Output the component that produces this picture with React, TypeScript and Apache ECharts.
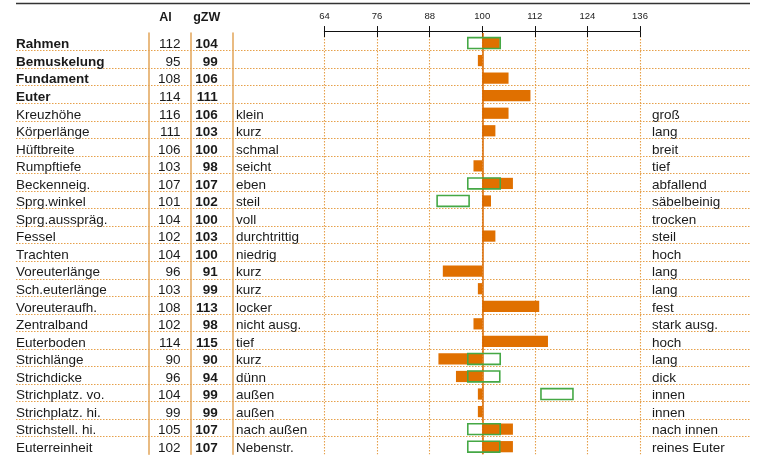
import React, { useEffect, useRef } from "react";
import * as echarts from "echarts";

const traits = [
  "Rahmen", "Bemuskelung", "Fundament", "Euter", "Kreuzhöhe", "Körperlänge",
  "Hüftbreite", "Rumpftiefe", "Beckenneig.", "Sprg.winkel", "Sprg.ausspräg.",
  "Fessel", "Trachten", "Voreuterlänge", "Sch.euterlänge", "Voreuteraufh.",
  "Zentralband", "Euterboden", "Strichlänge", "Strichdicke", "Strichplatz. vo.",
  "Strichplatz. hi.", "Strichstell. hi.", "Euterreinheit",
];
const boldTraits = ["Rahmen", "Bemuskelung", "Fundament", "Euter"];
const alValues = [112, 95, 108, 114, 116, 111, 106, 103, 107, 101, 104, 102, 104, 96, 103, 108, 102, 114, 90, 96, 104, 99, 105, 102];
const gzwValues = [104, 99, 106, 111, 106, 103, 100, 98, 107, 102, 100, 103, 100, 91, 99, 113, 98, 115, 90, 94, 99, 99, 107, 107];
const leftDesc = [
  "", "", "", "", "klein", "kurz", "schmal", "seicht", "eben", "steil", "voll",
  "durchtrittig", "niedrig", "kurz", "kurz", "locker", "nicht ausg.", "tief",
  "kurz", "dünn", "außen", "außen", "nach außen", "Nebenstr.",
];
const rightDesc = [
  "", "", "", "", "groß", "lang", "breit", "tief", "abfallend", "säbelbeinig",
  "trocken", "steil", "hoch", "lang", "lang", "fest", "stark ausg.", "hoch",
  "lang", "dick", "innen", "innen", "nach innen", "reines Euter",
];
const optRows = [0, 8, 9, 18, 19, 20, 22, 23];
const optLow = [96.7, 96.7, 89.7, 96.7, 96.7, 113.4, 96.7, 96.7];
const optHigh = [104.1, 104.1, 97.0, 104.1, 104.0, 120.7, 104.1, 104.0];
const scaleMin = 64;
const scaleMax = 136;
const scaleStep = 12;
const baseline = 100;

const FONT = '"Liberation Sans", Arial, Helvetica, sans-serif';
const TEXT = "#1a1a1a";
const ORANGE = "#e07000";
const DOT = "#e6a04a";
const SEP = "#e2a458";
const GREEN = "#45a845";
const TOP = 33.05;
const BOTTOM = 2.75;
const FS = 13.5;
const PAD = [4, 0, 0, 0];

const rich = {
  b: { fontWeight: "bold", fontSize: FS, color: TEXT, fontFamily: FONT },
  n: { fontSize: FS, color: TEXT, fontFamily: FONT },
};

export default function App() {
  const ref = useRef<HTMLDivElement>(null);
  useEffect(() => {
    document.body.style.margin = "0";
    const chart = echarts.init(ref.current!, undefined, { renderer: "svg" });
    const hiddenX = (g: number) => ({ gridIndex: g, type: "value", show: false, min: 0, max: 1 });
    const catBase = (g: number) => ({
      gridIndex: g,
      type: "category",
      data: traits,
      inverse: true,
      axisTick: { show: false },
      axisLine: { show: false, onZero: false },
      splitLine: { show: false },
    });
    const lbl = (margin: number, align: string, fmt: (v: string, i: number) => string) => ({
      interval: 0, margin, align, padding: PAD, rich, formatter: fmt,
    });
    const option: any = {
      animation: false,
      textStyle: { fontFamily: FONT },
      grid: [
        { left: 324.5, right: 124, top: TOP, bottom: BOTTOM },
        { left: 16, right: 14, top: TOP, bottom: BOTTOM },
        { left: 149, width: 1, top: TOP, bottom: BOTTOM },
        { left: 190.3, width: 1, top: TOP, bottom: BOTTOM },
        { left: 232.3, width: 1, top: TOP, bottom: BOTTOM },
      ],
      xAxis: [
        {
          gridIndex: 0, type: "value", position: "top", min: scaleMin, max: scaleMax, interval: scaleStep, offset: 1.5,
          axisLine: { show: true, lineStyle: { color: "#111", width: 1.2 } },
          axisTick: { show: true, inside: false, length: 5.5, lineStyle: { color: "#111", width: 1 } },
          axisLabel: { fontSize: 9.5, color: "#222", margin: 11, fontFamily: FONT },
          splitLine: { show: true, lineStyle: { color: DOT, type: [1.5, 1.5], width: 1.1 } },
        },
        {
          gridIndex: 0, type: "value", position: "top", min: scaleMin, max: scaleMax, interval: scaleStep, offset: 1.5,
          axisLine: { show: true, lineStyle: { color: "#111", width: 1.2 } },
          axisTick: { show: true, inside: true, length: 5.5, lineStyle: { color: "#111", width: 1 } },
          axisLabel: { show: false },
          splitLine: { show: false },
        },
        hiddenX(1), hiddenX(2), hiddenX(3), hiddenX(4),
      ],
      yAxis: [
        { ...catBase(0), show: false },
        {
          ...catBase(0), position: "right",
          axisLabel: lbl(12, "left", (_v, i) => (rightDesc[i] ? `{n|${rightDesc[i]}}` : "")),
        },
        {
          ...catBase(1), position: "left",
          splitLine: { show: true, showMinLine: false, showMaxLine: false, lineStyle: { color: DOT, type: [1.5, 1.5], width: 1.1 } },
          axisLabel: lbl(0, "left", (v) => (boldTraits.includes(v) ? `{b|${v}}` : `{n|${v}}`)),
        },
        {
          ...catBase(2), position: "left",
          axisLine: { show: true, onZero: false, lineStyle: { color: SEP, width: 1.5 } },
          axisLabel: lbl(-31.5, "right", (_v, i) => `{n|${alValues[i]}}`),
        },
        {
          ...catBase(3), position: "left",
          axisLine: { show: true, onZero: false, lineStyle: { color: SEP, width: 1.5 } },
          axisLabel: lbl(-27.4, "right", (_v, i) => `{b|${gzwValues[i]}}`),
        },
        {
          ...catBase(4), position: "left",
          axisLine: { show: true, onZero: false, lineStyle: { color: SEP, width: 1.5 } },
          axisLabel: lbl(-3.7, "left", (_v, i) => (leftDesc[i] ? `{n|${leftDesc[i]}}` : "")),
        },
      ],
      series: [
        {
          type: "custom",
          xAxisIndex: 0,
          yAxisIndex: 0,
          data: gzwValues.map((v, i) => [v, i]),
          encode: { x: 0, y: 1 },
          z: 3,
          renderItem: (_p: any, api: any) => {
            const v = api.value(0);
            const idx = api.value(1);
            const a = api.coord([baseline, idx]);
            const b = api.coord([v, idx]);
            const band = api.size([0, 1])[1];
            const h = band * 0.64;
            return {
              type: "rect",
              shape: { x: Math.min(a[0], b[0]), y: a[1] - h / 2 + 1.2, width: Math.abs(b[0] - a[0]), height: h },
              style: { fill: ORANGE },
            };
          },
          markLine: {
            silent: true,
            symbol: ["none", "none"],
            label: { show: false },
            lineStyle: { color: "#d86800", width: 1.5, type: "solid" },
            data: [{ xAxis: baseline }],
            z: 4,
          },
        },
        {
          type: "custom",
          xAxisIndex: 0,
          yAxisIndex: 0,
          data: optRows.map((r, k) => [optLow[k], optHigh[k], r]),
          encode: { x: [0, 1], y: 2 },
          z: 5,
          renderItem: (_p: any, api: any) => {
            const idx = api.value(2);
            const a = api.coord([api.value(0), idx]);
            const b = api.coord([api.value(1), idx]);
            const band = api.size([0, 1])[1];
            const h = band * 0.62;
            return {
              type: "rect",
              shape: { x: a[0], y: a[1] - h / 2 + 1.2, width: b[0] - a[0], height: h },
              style: { fill: "none", stroke: GREEN, lineWidth: 1.6 },
            };
          },
        },
      ],
      graphic: [
        { type: "line", shape: { x1: 16, y1: 3.5, x2: 750, y2: 3.5 }, style: { stroke: "#333", lineWidth: 1.5 } },
        { type: "text", x: 165.5, y: 16.5, style: { text: "Al", align: "center", verticalAlign: "middle", fontSize: 12.5, fontWeight: "bold", fontFamily: FONT, fill: TEXT } },
        { type: "text", x: 206.7, y: 16.5, style: { text: "gZW", align: "center", verticalAlign: "middle", fontSize: 12.5, fontWeight: "bold", fontFamily: FONT, fill: TEXT } },
      ],
    };
    chart.setOption(option);
    return () => chart.dispose();
  }, []);
  return <div ref={ref} style={{ position: "fixed", left: 0, top: 0, width: 764, height: 457 }} />;
}
